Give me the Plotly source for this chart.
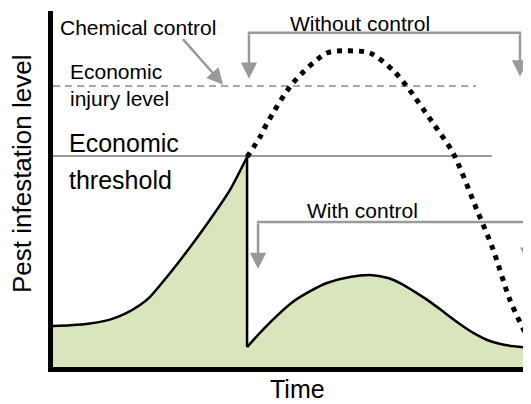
import plotly.graph_objects as go

# ---- data (time 0-100, pest level 0-100) ----
before_x = [0, 3.6, 7.7, 11.9, 15.0, 18.2, 20.3, 24.5, 28.7, 32.8, 37.0, 40.6]
before_y = [11.5, 11.7, 12.2, 13.3, 14.9, 17.4, 19.7, 26.4, 33.7, 41.3, 49.7, 59.0]

with_x = [40.6, 43.3, 46.4, 50.2, 53.8, 57.3, 62.1, 66.9, 70.1, 73.0, 75.7, 78.9, 82.0, 85.1, 88.3, 91.4, 94.6, 100]
with_y = [5.6, 9.6, 13.8, 18.3, 21.3, 23.6, 25.3, 25.8, 25.0, 23.3, 21.1, 18.3, 15.2, 12.1, 9.3, 7.3, 6.2, 5.3]

without_x = [40.6, 43.3, 44.8, 50.2, 57.3, 61.5, 66.3, 71.1, 74.1, 79.5, 83.7, 88.7, 92.1, 95.6, 99.2, 100]
without_y = [59.0, 64.6, 68.5, 79.8, 88.2, 88.8, 88.2, 83.4, 78.7, 68.5, 60.1, 44.1, 32.9, 18.8, 8.4, 6.2]

economic_threshold = 59.3
economic_injury_level = 78.9
threshold_end = 91.8
injury_end = 88.5

# bracket annotations (time, level)
without_bracket = dict(x0=41.0, x1=97.7, y=93.9, tip_left=81.0, tip_right=81.6)
with_bracket = dict(x0=42.9, x1=99.4, y=40.7, tip_left=27.5, tip_right=29.0)
chem_tail = (26.9, 92.5)
chem_tip = (35.6, 79.3)

FILL = "#d9e5bd"
GREY = "#999999"
FONT = "Liberation Sans, Arial, Helvetica, sans-serif"

fig = go.Figure()
fig.add_trace(go.Scatter(x=before_x, y=before_y, mode="lines", fill="tozeroy",
                         fillcolor=FILL, line=dict(color="black", width=2.5, shape="spline", smoothing=0.7),
                         hoverinfo="skip", showlegend=False))
fig.add_trace(go.Scatter(x=with_x, y=with_y, mode="lines", fill="tozeroy",
                         fillcolor=FILL, line=dict(color="black", width=2.5, shape="spline", smoothing=0.8),
                         hoverinfo="skip", showlegend=False))
fig.add_trace(go.Scatter(x=[before_x[-1], with_x[0]], y=[before_y[-1], with_y[0]], mode="lines",
                         line=dict(color="black", width=2.5), hoverinfo="skip", showlegend=False))
fig.add_trace(go.Scatter(x=without_x, y=without_y, mode="lines",
                         line=dict(color="black", width=5, dash="5px,6px", shape="spline", smoothing=0.8),
                         hoverinfo="skip", showlegend=False))

# reference lines
fig.add_shape(type="line", x0=0, x1=threshold_end, y0=economic_threshold, y1=economic_threshold,
              line=dict(color=GREY, width=2), layer="below")
fig.add_shape(type="line", x0=0, x1=injury_end, y0=economic_injury_level, y1=economic_injury_level,
              line=dict(color="#a8a8a8", width=2, dash="7px,5px"), layer="below")

# brackets
for b in (without_bracket, with_bracket):
    fig.add_shape(type="line", x0=b["x0"] - 0.25, x1=b["x1"] + 0.25, y0=b["y"], y1=b["y"],
                  line=dict(color=GREY, width=2.5), layer="below")
    for xx, tip in ((b["x0"], b["tip_left"]), (b["x1"], b["tip_right"])):
        fig.add_annotation(x=xx, y=tip, ax=xx, ay=b["y"], axref="x", ayref="y", xref="x", yref="y",
                           text="", showarrow=True, arrowhead=2, arrowsize=1.3, arrowwidth=2.5,
                           arrowcolor=GREY, standoff=0)

fig.add_annotation(x=chem_tip[0], y=chem_tip[1], ax=chem_tail[0], ay=chem_tail[1], axref="x", ayref="y",
                   text="", showarrow=True, arrowhead=2, arrowsize=1.3, arrowwidth=2.5,
                   arrowcolor=GREY, standoff=0)

def label(txt, x, y, size, xanchor="left", ref="", **kw):
    fig.add_annotation(x=x, y=y, xref="x" if not ref else ref, yref="y" if not ref else ref,
                       text=txt, showarrow=False,
                       xanchor=xanchor, yanchor="middle", font=dict(size=size, color="black", family=FONT), **kw)

label("Chemical control", 1.0, 95.5, 21)
label("Without control", 49.2, 96.5, 21)
label("Economic<br>injury level", 3.1, 79.3, 21, align="left")
label("Economic", 2.9, 62.8, 25)
label("threshold", 2.9, 52.6, 25)
label("With control", 52.7, 44.1, 21)
label("Time", 0.5115, -0.0618, 25, xanchor="center", ref="paper", borderpad=0)
label("Pest infestation level", -0.0649, 0.542, 26, xanchor="center", ref="paper", textangle=-90)

fig.update_xaxes(range=[0, 100], showline=True, linewidth=5, linecolor="black", showgrid=False,
                 zeroline=False, showticklabels=False, ticks="")
fig.update_yaxes(range=[0, 100], showline=True, linewidth=5, linecolor="black", showgrid=False,
                 zeroline=False, showticklabels=False, ticks="")
# page body has an 8px margin; shift the figure so the plot area matches the reference
fig.update_layout(width=523, height=396, margin=dict(l=45, r=0, t=3, b=37),
                  plot_bgcolor="white", paper_bgcolor="white")

fig.write_html("out.html")
